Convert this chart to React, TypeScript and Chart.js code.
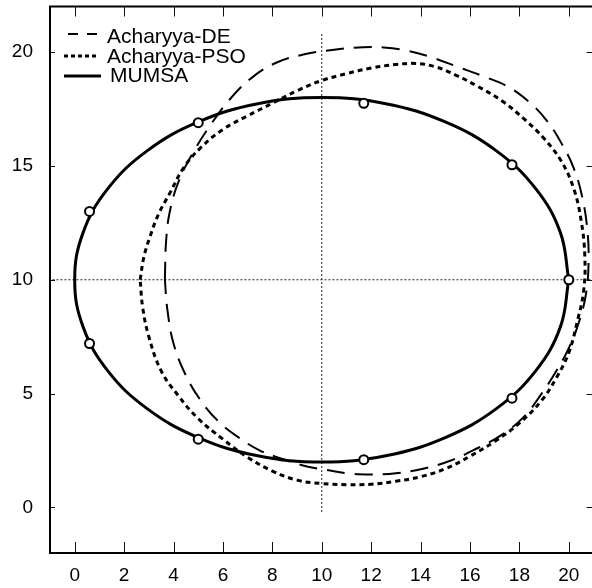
import React, { useEffect, useRef } from "react";
import { Chart, registerables } from "chart.js";
Chart.register(...registerables);

const xTicks = [0, 2, 4, 6, 8, 10, 12, 14, 16, 18, 20];
const yTicks = [0, 5, 10, 15, 20];
const legendLabels = ["Acharyya-DE", "Acharyya-PSO", "MUMSA"];

const mumsaX = [20, 19.66, 18.66, 17.07, 15, 12.59, 10, 7.41, 5, 2.93, 1.34, 0.34, 0, 0.34, 1.34, 2.93, 5, 7.41, 10, 12.59, 15, 17.07, 18.66, 19.66, 20];
const mumsaY = [10, 12.07, 14, 15.66, 16.93, 17.73, 18, 17.73, 16.93, 15.66, 14, 12.07, 10, 7.93, 6, 4.34, 3.07, 2.27, 2, 2.27, 3.07, 4.34, 6, 7.93, 10];

const markerX = [20, 17.7, 11.7, 5, 0.6, 0.6, 5, 11.7, 17.7];
const markerY = [10, 15.05, 17.75, 16.9, 13, 7.2, 3, 2.1, 4.8];

const deX = [3.65, 3.7, 3.85, 4.2, 4.8, 5.5, 6.3, 7.2, 8.2, 9.3, 10.5, 11.5, 12.5, 13.5, 14.5, 15.5, 16.5, 17.5, 18.4, 19.1, 19.7, 20.2, 20.55, 20.75, 20.8, 20.7, 20.4, 20.0, 19.5, 18.9, 18.2, 17.3, 16.3, 15.2, 14.1, 13.0, 12.0, 11.0, 10.2, 9.4, 8.5, 7.5, 6.6, 5.8, 5.1, 4.5, 4.0, 3.75, 3.65];
const deY = [10, 11.7, 13.0, 14.3, 15.6, 16.8, 17.95, 18.9, 19.55, 19.9, 20.1, 20.2, 20.2, 20.05, 19.75, 19.35, 18.95, 18.5, 17.8, 17.0, 16.0, 14.9, 13.6, 12.2, 10.8, 9.4, 8.1, 7.0, 6.0, 5.0, 4.0, 3.2, 2.6, 2.05, 1.7, 1.5, 1.45, 1.5, 1.65, 1.8, 2.1, 2.5, 3.1, 3.8, 4.7, 5.8, 7.2, 8.7, 10];

const psoX = [2.65, 2.8, 3.05, 3.4, 3.85, 4.4, 5.1, 6.0, 7.0, 8.0, 9.0, 10.0, 11.0, 12.0, 13.0, 13.8, 14.6, 15.4, 16.3, 17.3, 18.2, 19.0, 19.7, 20.2, 20.5, 20.65, 20.6, 20.35, 20.0, 19.5, 18.9, 18.0, 17.0, 16.0, 15.0, 14.0, 13.0, 12.0, 11.0, 10.0, 9.0, 8.0, 7.0, 6.0, 5.0, 4.2, 3.5, 3.0, 2.75, 2.65];
const psoY = [10, 11.0, 11.9, 12.9, 13.8, 14.9, 15.8, 16.6, 17.2, 17.75, 18.3, 18.75, 19.05, 19.3, 19.45, 19.5, 19.35, 19.0, 18.5, 17.85, 17.05, 16.2, 15.2, 14.0, 12.6, 11.0, 9.5, 8.2, 6.8, 5.7, 4.7, 3.7, 2.9, 2.25, 1.7, 1.35, 1.15, 1.02, 1.0, 1.05, 1.2, 1.6, 2.2, 3.0, 3.9, 4.9, 6.0, 7.5, 8.8, 10];

const crossVX = [10, 10];
const crossVY = [-0.2, 20.8];
const crossHX = [-0.9, 21];
const crossHY = [10, 10];

const zip = (xs: number[], ys: number[]) => xs.map((x, i) => ({ x, y: ys[i] }));

const FONT = "'Liberation Sans', Arial, sans-serif";

const framePlugin = {
  id: "frame",
  afterDatasetsDraw(chart: any) {
    const { ctx, chartArea: a, scales } = chart;
    const xs = scales.x;
    const ys = scales.y;
    ctx.save();
    ctx.strokeStyle = "#111";
    ctx.lineWidth = 1;
    ctx.setLineDash([]);
    xTicks.forEach((v) => {
      const px = Math.round(xs.getPixelForValue(v)) + 0.5;
      ctx.beginPath();
      ctx.moveTo(px, a.bottom);
      ctx.lineTo(px, a.bottom - 11);
      ctx.moveTo(px, a.top);
      ctx.lineTo(px, a.top + 10);
      ctx.stroke();
    });
    yTicks.forEach((v) => {
      const py = Math.round(ys.getPixelForValue(v)) + 0.5;
      ctx.beginPath();
      ctx.moveTo(a.left, py);
      ctx.lineTo(a.left + 5, py);
      ctx.moveTo(a.right, py);
      ctx.lineTo(a.right - 7, py);
      ctx.stroke();
    });
    ctx.lineWidth = 2;
    ctx.strokeStyle = "#000";
    ctx.strokeRect(a.left, a.top, a.right - a.left, a.bottom - a.top);
    ctx.restore();
  },
  afterDraw(chart: any) {
    const ctx = chart.ctx;
    ctx.save();
    ctx.strokeStyle = "#000";
    ctx.lineWidth = 2;
    ctx.setLineDash([10, 9]);
    ctx.beginPath();
    ctx.moveTo(68, 34);
    ctx.lineTo(97, 34);
    ctx.stroke();
    ctx.lineWidth = 3;
    ctx.setLineDash([4, 3]);
    ctx.beginPath();
    ctx.moveTo(64, 56);
    ctx.lineTo(97, 56);
    ctx.stroke();
    ctx.setLineDash([]);
    ctx.beginPath();
    ctx.moveTo(64, 76);
    ctx.lineTo(101, 76);
    ctx.stroke();
    ctx.fillStyle = "#000";
    ctx.font = `21px ${FONT}`;
    ctx.textBaseline = "alphabetic";
    ctx.textAlign = "left";
    ctx.fillText(legendLabels[0], 107, 43);
    ctx.fillText(legendLabels[1], 107, 63);
    ctx.fillText(legendLabels[2], 110, 82);
    ctx.restore();
  },
};

export default function App() {
  const ref = useRef<HTMLCanvasElement>(null);
  useEffect(() => {
    if (!ref.current) return;
    const chart = new Chart(ref.current, {
      type: "scatter",
      data: {
        datasets: [
          {
            label: "markers",
            data: zip(markerX, markerY),
            showLine: false,
            pointRadius: 4.5,
            pointBorderWidth: 2,
            pointBackgroundColor: "#fff",
            pointBorderColor: "#000",
          },
          {
            label: legendLabels[2],
            data: zip(mumsaX, mumsaY),
            showLine: true,
            borderColor: "#000",
            borderWidth: 3,
            tension: 0.4,
            pointRadius: 0,
          },
          {
            label: legendLabels[1],
            data: zip(psoX, psoY),
            showLine: true,
            borderColor: "#000",
            borderWidth: 3,
            borderDash: [5, 4],
            tension: 0.4,
            pointRadius: 0,
          },
          {
            label: legendLabels[0],
            data: zip(deX, deY),
            showLine: true,
            borderColor: "#000",
            borderWidth: 2,
            borderDash: [18, 10],
            tension: 0.4,
            pointRadius: 0,
          },
          {
            label: "v",
            data: zip(crossVX, crossVY),
            showLine: true,
            borderColor: "#222",
            borderWidth: 1,
            borderDash: [2, 2],
            pointRadius: 0,
          },
          {
            label: "h",
            data: zip(crossHX, crossHY),
            showLine: true,
            borderColor: "#222",
            borderWidth: 1,
            borderDash: [2, 2],
            pointRadius: 0,
          },
        ],
      },
      options: {
        animation: false,
        responsive: false,
        layout: { padding: { left: 0, top: 5, right: 2, bottom: 0 } },
        plugins: { legend: { display: false }, tooltip: { enabled: false } },
        scales: {
          x: {
            type: "linear",
            min: -1,
            max: 21,
            grid: { display: false, drawTicks: false },
            border: { display: false },
            afterBuildTicks: (s: any) => {
              s.ticks = xTicks.map((v) => ({ value: v }));
            },
            afterFit: (s: any) => {
              s.height = 35;
              s.paddingLeft = 0;
              s.paddingRight = 0;
              s.paddingTop = 0;
              s.paddingBottom = 0;
            },
            ticks: {
              autoSkip: false,
              maxRotation: 0,
              padding: 11,
              color: "#000",
              font: { family: FONT, size: 19 },
            },
          },
          y: {
            type: "linear",
            min: -2,
            max: 22,
            grid: { display: false, drawTicks: false },
            border: { display: false },
            afterBuildTicks: (s: any) => {
              s.ticks = yTicks.map((v) => ({ value: v }));
            },
            afterFit: (s: any) => {
              s.width = 50;
              s.paddingLeft = 0;
              s.paddingRight = 0;
              s.paddingTop = 0;
              s.paddingBottom = 0;
            },
            ticks: {
              autoSkip: false,
              padding: 17,
              color: "#000",
              font: { family: FONT, size: 19 },
            },
          },
        },
      },
      plugins: [framePlugin],
    });
    return () => chart.destroy();
  }, []);
  return (
    <div style={{ position: "fixed", left: 0, top: 0, width: 592, height: 588, overflow: "hidden", background: "#fff" }}>
      <canvas ref={ref} width={600} height={588} style={{ display: "block", width: 600, height: 588 }} />
    </div>
  );
}
